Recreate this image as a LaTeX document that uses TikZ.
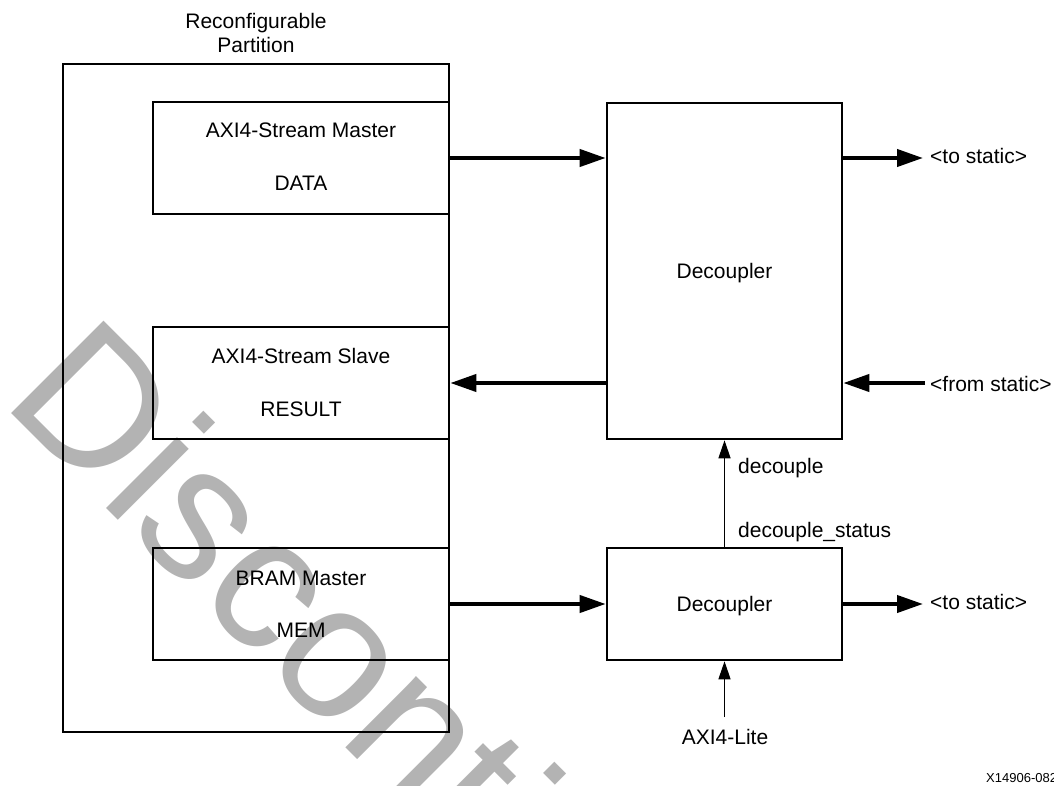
\documentclass[tikz,border=0pt]{standalone}
\usepackage{fontspec}
\setmainfont{Liberation Sans}
\usetikzlibrary{arrows.meta}
\definecolor{wmgray}{HTML}{B3B3B3}

\begin{document}
\begin{tikzpicture}[x=1pt,y=-1pt,
  box/.style={draw, line width=2.6pt, inner sep=0pt},
  lbl/.style={font=\fontsize{21}{24}\selectfont, inner sep=0pt, anchor=base},
  lbll/.style={lbl, anchor=base west},
  bus/.style={line width=4pt, -{Triangle[length=26pt,width=17pt]}},
  sig/.style={line width=1.3pt, -{Triangle[length=18pt,width=12pt]}},
]
\useasboundingbox (0,0) rectangle (1054,786);
\clip (0,0) rectangle (1054,786);

% watermark
\node[anchor=base west, inner sep=0pt, rotate=-45, text=wmgray,
      font=\fontsize{190}{190}\selectfont] (wmark) at (0,402) {Discontinued};

% reconfigurable partition and its interfaces
\node[box, minimum width=386pt, minimum height=668pt] (rp) at (256,398) {};
\node[lbl] (rptitle1) at (256,29) {Reconfigurable};
\node[lbl] (rptitle2) at (256,53) {Partition};

\node[box, minimum width=296pt, minimum height=112pt] (data) at (301,158) {};
\node[lbl] (data1) at (301,138) {AXI4-Stream Master};
\node[lbl] (data2) at (301,191) {DATA};

\node[box, minimum width=296pt, minimum height=112pt] (result) at (301,383) {};
\node[lbl] (result1) at (301,363) {AXI4-Stream Slave};
\node[lbl] (result2) at (301,416) {RESULT};

\node[box, minimum width=296pt, minimum height=112pt] (bram) at (301,604) {};
\node[lbl] (bram1) at (301,585) {BRAM Master};
\node[lbl] (bram2) at (301,637.5) {MEM};

% decouplers
\node[box, minimum width=235pt, minimum height=336pt] (dec1) at (724.5,271) {};
\node[lbl] (dec1lbl) at (724.5,278) {Decoupler};
\node[box, minimum width=235pt, minimum height=112pt] (dec2) at (724.5,604) {};
\node[lbl] (dec2lbl) at (724.5,611) {Decoupler};

% static side labels
\node[lbll] (ts1) at (930,163.5) {<to static>};
\node[lbll] (fs1) at (930,391) {<from static>};
\node[lbll] (ts2) at (930,609.5) {<to static>};
\coordinate (ts1end) at (923,158);
\coordinate (fs1start) at (925,383);
\coordinate (ts2end) at (923,604);

% control labels
\node[lbll] (dclbl) at (738,473) {decouple};
\node[lbll] (dslbl) at (738,537) {decouple\_status};
\node[lbl] (axil) at (725,744) {AXI4-Lite};
\coordinate (axsrc) at (724.5,717);

% footer id
\node[anchor=base west, inner sep=0pt, font=\fontsize{13}{16}\selectfont] (figid) at (986,782) {X14906-082};

% bus connections
\draw[bus] (data.east) -- (dec1.west |- data.east);
\draw[bus] (dec1.west |- result.east) -- (result.east);
\draw[bus] (bram.east) -- (dec2.west);
\draw[bus] (dec1.east |- ts1end) -- (ts1end);
\draw[bus] (fs1start) -- (dec1.east |- fs1start);
\draw[bus] (dec2.east) -- (ts2end);

% control signals
\draw[sig] (dec2.north) -- (dec1.south);
\draw[sig] (axsrc) -- (dec2.south);
\end{tikzpicture}
\end{document}
